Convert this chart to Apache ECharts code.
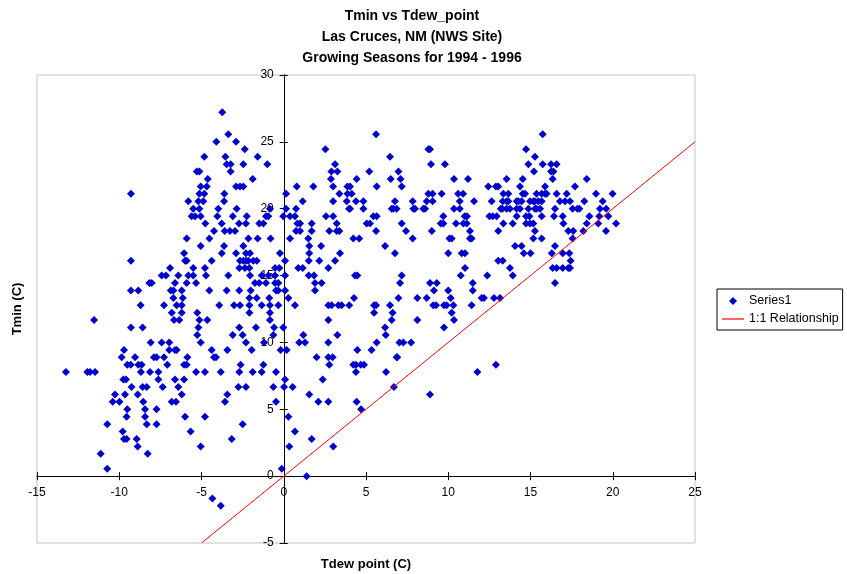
<!DOCTYPE html>
<html><head><meta charset="utf-8">
<script src="https://cdn.jsdelivr.net/npm/echarts@6/dist/echarts.min.js"></script>
<style>html,body{margin:0;padding:0;background:#fff}#c{width:847px;height:574px}</style>
</head><body><div id="c"></div>
<script>
const titleLines = ['Tmin vs Tdew_point', 'Las Cruces, NM (NWS Site)', 'Growing Seasons for 1994 - 1996'];
const xAxisName = 'Tdew point (C)';
const yAxisName = 'Tmin (C)';
const xMin = -15, xMax = 25, yMin = -5, yMax = 30, tickStep = 5;
const seriesNames = ['Series1', '1:1 Relationship'];

// Series1: rows of [Tmin, [Tdew values...]]
const series1Rows = [
  [27.22, [-3.74]],
  [25.56, [-3.37, 5.61, 15.74]],
  [25.00, [-4.1, -2.9]],
  [24.44, [-2.37, 2.53, 8.79, 8.89, 14.73]],
  [23.89, [-4.83, -3.55, -1.59, 6.46, 15.27]],
  [23.33, [-3.47, -3.23, -2.46, -1.0, 3.12, 8.95, 9.8, 14.87, 15.74, 16.25, 16.59]],
  [22.78, [-5.29, -5.13, -3.23, 2.9, 3.26, 5.2, 6.97, 15.21, 16.25, 16.39]],
  [22.22, [-4.62, -1.89, 2.87, 4.43, 6.5, 7.1, 10.35, 11.2, 13.55, 14.53, 16.35, 18.42]],
  [21.67, [-5.05, -4.68, -2.9, -2.66, -2.46, 0.79, 1.8, 3.0, 3.87, 4.03, 5.65, 7.17, 12.43, 12.9, 13.04, 14.36, 15.88, 17.7]],
  [21.11, [-9.29, -5.13, -4.83, -3.61, 0.14, 3.38, 3.87, 4.13, 8.79, 9.05, 9.6, 10.6, 10.9, 13.35, 13.65, 14.53, 14.67, 15.37, 15.68, 15.88, 15.98, 16.59, 17.2, 18.98, 19.99]],
  [20.56, [-5.8, -5.19, -4.89, -3.63, 1.15, 3.0, 3.83, 4.39, 4.84, 6.76, 7.84, 8.69, 9.05, 10.7, 11.57, 12.64, 13.31, 13.55, 13.65, 14.16, 14.26, 14.46, 14.97, 15.17, 15.27, 15.48, 15.68, 16.79, 17.1, 17.4, 18.27, 19.39]],
  [20.00, [-5.5, -5.13, -3.98, -2.86, -0.84, 0.14, 0.75, 3.97, 4.03, 4.84, 6.56, 6.66, 6.86, 7.88, 7.98, 8.48, 8.59, 10.35, 10.7, 13.19, 13.29, 13.55, 13.75, 14.16, 14.36, 14.87, 15.27, 15.37, 15.58, 16.49, 17.56, 17.85, 17.97, 19.22, 19.6]],
  [19.44, [-5.6, -5.39, -5.05, -4.04, -3.1, -2.25, -1.08, -0.94, -0.03, 0.38, 0.68, 2.57, 3.0, 5.45, 5.65, 9.7, 11.0, 11.14, 12.5, 12.7, 12.94, 14.16, 14.73, 14.93, 15.68, 16.43, 16.96, 18.58, 19.18, 19.73]],
  [18.89, [-4.77, -3.77, -2.72, -2.3, -1.49, -1.24, 0.83, 0.99, 1.7, 3.22, 5.04, 5.24, 7.17, 9.54, 9.7, 10.47, 10.92, 11.12, 13.35, 13.92, 14.73, 14.97, 15.17, 17.0, 18.42, 19.12, 20.2]],
  [18.33, [-4.24, -3.59, -3.27, -2.96, 0.75, 0.99, 1.7, 2.77, 3.22, 3.38, 5.61, 7.43, 9.0, 11.32, 13.04, 15.27, 17.3, 17.6, 18.21, 19.59]],
  [17.78, [-5.9, -4.52, -2.15, -1.59, -0.8, 0.38, 1.49, 4.23, 4.59, 7.84, 10.07, 10.21, 11.32, 11.42, 15.17, 15.68, 17.56]],
  [17.22, [-5.05, -3.63, -2.46, 1.55, 2.27, 6.16, 14.06, 14.46, 16.49]],
  [16.67, [-6.06, -3.77, -2.9, -2.3, -2.05, -0.23, 1.55, 3.42, 6.76, 10.0, 10.82, 11.02, 14.59, 15.0, 16.29, 16.96, 17.36]],
  [16.11, [-9.29, -6.0, -5.9, -4.38, -2.66, -2.46, -2.3, -2.15, -1.85, -1.64, 0.08, 1.52, 2.16, 3.12, 13.04, 13.31, 17.44]],
  [15.56, [-6.91, -5.5, -4.79, -2.7, -2.36, -2.09, -0.53, -0.27, 0.88, 1.15, 2.71, 11.02, 13.75, 16.35, 16.59, 16.96, 17.3, 17.4]],
  [15.00, [-7.42, -7.16, -6.41, -5.8, -5.5, -4.73, -3.37, -2.05, -1.34, -0.94, -0.53, 0.08, 1.52, 1.84, 4.33, 4.47, 7.17, 10.76, 12.37, 13.92]],
  [14.44, [-8.17, -8.03, -6.61, -5.9, -5.33, -1.75, -1.49, -1.08, -0.53, -0.33, 1.9, 2.3, 7.07, 8.89, 9.3, 11.49, 16.49]],
  [13.89, [-9.29, -8.84, -6.87, -6.71, -6.2, -4.52, -3.47, -2.7, -2.01, -0.47, -0.33, 0.08, 1.9, 9.13, 10.0, 11.49]],
  [13.33, [-6.71, -6.14, -2.09, -1.64, -0.88, 0.28, 4.27, 6.97, 8.12, 8.69, 10.15, 12.03, 12.17, 12.78, 13.15]],
  [12.78, [-8.7, -7.28, -6.51, -6.2, -3.92, -3.02, -2.66, -2.09, -1.34, -0.84, -0.33, 0.68, 2.71, 2.91, 3.32, 3.52, 3.98, 5.49, 5.61, 6.46, 9.09, 9.26, 9.74, 9.9, 10.31, 11.42]],
  [12.22, [-6.81, -6.2, -5.26, -2.09, -0.84, 5.49, 6.62, 10.21]],
  [11.67, [-11.53, -6.67, -6.35, -5.13, -4.65, -0.84, 2.71, 6.56, 8.12, 10.35]],
  [11.11, [-9.29, -8.58, -5.19, -2.7, -1.69, -0.59, -0.03, 6.16, 9.74]],
  [10.56, [-5.26, -3.1, -2.5, -0.63, 1.19, 3.26, 6.2]],
  [10.00, [-8.09, -7.42, -6.96, -5.05, -2.3, -1.2, 0.94, 1.29, 2.71, 5.65, 7.03, 7.27, 7.74]],
  [9.44, [-9.71, -6.96, -6.61, -6.51, -4.38, -3.43, -1.95, -0.19, 0.18, 4.47, 5.34]],
  [8.89, [-9.85, -9.04, -7.89, -7.73, -7.28, -5.86, -4.24, -4.12, 2.0, 2.71, 2.97, 6.86, 6.9]],
  [8.33, [-9.51, -9.3, -8.84, -8.64, -7.08, -6.06, -5.9, -2.62, -1.24, 2.77, 4.23, 4.39, 4.68, 4.88, 12.9]],
  [7.78, [-13.24, -11.94, -11.78, -11.47, -8.68, -8.13, -7.62, -5.33, -4.79, -3.83, -2.7, -1.89, -1.34, -0.47, 4.39, 6.22, 11.77]],
  [7.22, [-9.75, -9.59, -7.62, -6.61, -6.06, 0.08, 2.37]],
  [6.67, [-9.25, -8.58, -8.33, -7.36, -6.41, -2.76, -2.3, -0.63, 0.02, 0.54, 6.7]],
  [6.11, [-10.26, -9.65, -8.88, -6.2, -3.43, 1.55, 8.89]],
  [5.56, [-10.4, -9.99, -8.54, -6.81, -6.55, -3.57, -0.47, 2.1, 2.71, 4.43]],
  [5.00, [-9.51, -8.43, -7.73, 4.7]],
  [4.44, [-9.55, -8.43, -6.0, -4.79, 0.28]],
  [3.89, [-10.73, -8.33, -7.73, -2.5]],
  [3.33, [-9.79, -5.66, 0.68]],
  [2.78, [-9.71, -9.55, -8.94, -3.16, 1.7]],
  [2.22, [-8.88, -5.05, 0.34, 3.01]],
  [1.67, [-11.13, -8.27]],
  [0.56, [-10.73, -0.12]],
  [0.00, [1.39]],
  [-1.67, [-4.34]],
  [-2.22, [-3.83]]
];
const oneToOneLine = [[-5, -5], [25, 25]];

const series1Points = [];
series1Rows.forEach(([tmin, tdews]) => tdews.forEach(td => series1Points.push([td, tmin])));

const FONT = '"Liberation Sans", Arial, sans-serif';
const W = 847, H = 574;
const gridBox = {left: 37, right: 152, top: 75, bottom: 31};
const gridW = W - gridBox.left - gridBox.right;
const gridH = H - gridBox.top - gridBox.bottom;
// axes cross at zero: shift each axis inward from its grid edge to the other axis' zero
const xZeroFromBottom = gridH * (0 - yMin) / (yMax - yMin);
const yZeroFromLeft = gridW * (0 - xMin) / (xMax - xMin);

const chart = echarts.init(document.getElementById('c'), null, {renderer: 'canvas'});

function axisBase(min, max, isX, showLabels, position, offset) {
  return {
    type: 'value', min: min, max: max, interval: tickStep, position: position, offset: offset,
    axisLine: {show: true, onZero: false, lineStyle: {color: '#000', width: 1}},
    axisTick: {show: true, length: 4, lineStyle: {color: '#000', width: 1}},
    axisLabel: {show: showLabels, color: '#000', fontSize: 12, fontFamily: FONT, margin: isX ? 11 : 10},
    splitLine: {show: false}
  };
}

const xMain = Object.assign(axisBase(xMin, xMax, true, true, 'bottom', -xZeroFromBottom), {
  name: xAxisName, nameLocation: 'middle', nameGap: 82, nameMoveOverlap: false,
  nameTextStyle: {color: '#000', fontSize: 13, fontWeight: 'bold', fontFamily: FONT}
});
const xMirror = axisBase(xMin, xMax, true, false, 'top', -(gridH - xZeroFromBottom));
const yMain = Object.assign(axisBase(yMin, yMax, false, true, 'left', -yZeroFromLeft), {
  name: yAxisName, nameLocation: 'middle', nameGap: 260, nameMoveOverlap: false,
  nameTextStyle: {color: '#000', fontSize: 13, fontWeight: 'bold', fontFamily: FONT}
});
const yMirror = axisBase(yMin, yMax, false, false, 'right', -(gridW - yZeroFromLeft));

chart.setOption({
  animation: false,
  backgroundColor: '#fff',
  title: {
    text: titleLines.join('\n'),
    left: 412, top: 6, textAlign: 'center', padding: 0,
    textStyle: {color: '#000', fontSize: 14, fontWeight: 'bold', fontFamily: FONT, lineHeight: 21}
  },
  grid: Object.assign({show: true, borderColor: '#c4c4c4', borderWidth: 1,
         containLabel: false, outerBoundsMode: 'none'}, gridBox),
  xAxis: [xMain, xMirror],
  yAxis: [yMain, yMirror],
  legend: {
    orient: 'vertical', left: 717, top: 289, padding: [5, 4, 4, 5], itemGap: 4,
    itemWidth: 22, itemHeight: 8, borderColor: '#000', borderWidth: 1, backgroundColor: '#fff',
    symbolKeepAspect: true,
    textStyle: {color: '#000', fontSize: 12.5, fontFamily: FONT, lineHeight: 14},
    data: [
      {name: seriesNames[0], icon: 'path://M4,0L8,4L4,8L0,4Z', symbolKeepAspect: true},
      {name: seriesNames[1], icon: 'path://M0,0L22,0L22,1.2L0,1.2Z', symbolKeepAspect: true}
    ]
  },
  series: [
    {
      name: seriesNames[0], type: 'scatter', xAxisIndex: 0, yAxisIndex: 0,
      symbol: 'diamond', symbolSize: 8,
      itemStyle: {color: '#0000cc', opacity: 1},
      data: series1Points
    },
    {
      name: seriesNames[1], type: 'line', xAxisIndex: 0, yAxisIndex: 0,
      symbol: 'none', lineStyle: {color: '#ff0000', width: 1}, itemStyle: {color: '#ff0000'},
      clip: true, data: oneToOneLine
    }
  ]
});
</script>
</body></html>
